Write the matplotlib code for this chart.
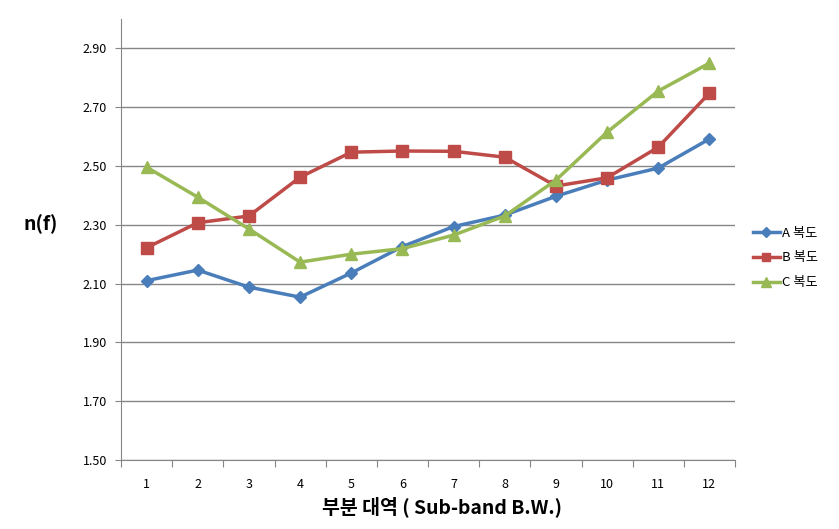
import numpy as np
import matplotlib
matplotlib.use("Agg")
from matplotlib import pyplot as plt

plt.rcParams['font.family'] = ['Noto Sans CJK KR', 'DejaVu Sans']

# dati
bands = [1, 2, 3, 4, 5, 6, 7, 8, 9, 10, 11, 12]
a_vals = [2.11, 2.146, 2.088, 2.054, 2.136, 2.226, 2.294, 2.333, 2.397, 2.452, 2.493, 2.592]
b_vals = [2.222, 2.307, 2.330, 2.462, 2.547, 2.551, 2.550, 2.530, 2.432, 2.460, 2.564, 2.748]
c_vals = [2.496, 2.394, 2.286, 2.173, 2.200, 2.219, 2.265, 2.330, 2.452, 2.615, 2.755, 2.850]
names = ["A 복도", "B 복도", "C 복도"]

fig = plt.figure(figsize=(8.39, 5.29), dpi=100)
ax = fig.add_axes([121/839, 1-460/529, (735-121)/839, (460-19)/529])

x = np.arange(len(bands))
ax.plot(x, a_vals, color="#4A7EBB", lw=2.5, marker="D", ms=6.5, label=names[0])
ax.plot(x, b_vals, color="#BE4B48", lw=2.5, marker="s", ms=8, label=names[1])
ax.plot(x, c_vals, color="#98B954", lw=2.5, marker="^", ms=8.5, label=names[2])

ax.set_xlim(-0.5, len(bands) - 0.5)
ax.set_ylim(1.5, 3.0)
ax.set_yticks(np.arange(1.5, 2.91, 0.2))
ax.set_yticklabels(["%.2f" % v for v in np.arange(1.5, 2.91, 0.2)])
ax.yaxis.grid(True, color="#868686", lw=1)
ax.set_axisbelow(True)

ax.set_xticks(np.arange(-0.5, len(bands), 1.0))
ax.set_xticklabels([])
ax.set_xticks(x, minor=True)
ax.set_xticklabels([str(b) for b in bands], minor=True)
ax.tick_params(axis="x", which="major", length=5, color="#868686", direction="out")
ax.tick_params(axis="x", which="minor", length=0, pad=13, labelsize=9)
ax.tick_params(axis="y", length=4, color="#868686", labelsize=9, pad=6)

for s in ["top", "right"]:
    ax.spines[s].set_visible(False)
for s in ["left", "bottom"]:
    ax.spines[s].set_color("#868686")

fig.text(442/839, 1-507/529, "부분 대역 ( Sub-band B.W.)", ha="center", va="center",
         fontsize=14, fontweight="bold")
fig.text(41/839, 1-224/529, "n(f)", ha="center", va="center", fontsize=14, fontweight="bold")

ax.legend(loc="center left", bbox_to_anchor=(744/839, 1-258/529), bbox_transform=fig.transFigure,
          frameon=False, fontsize=9.5, handlelength=2.0, handletextpad=0.2, labelspacing=0.9,
          markerscale=0.8, borderpad=0.2)

fig.savefig("out.png", dpi=100)
